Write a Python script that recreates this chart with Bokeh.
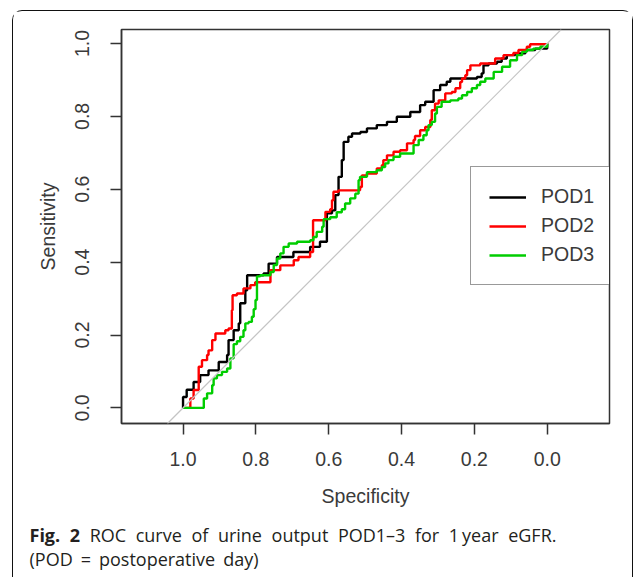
from bokeh.plotting import figure
from bokeh.models import (Range1d, FixedTicker, PrintfTickFormatter, Legend, LegendItem,
                          Slope, Div)
from bokeh.layouts import column
from bokeh.embed import file_html
from bokeh.resources import INLINE

# ---- data ----
pod1_spec = [1.000, 1.000, 0.990, 0.971, 0.953, 0.930, 0.902, 0.879, 0.875, 0.861, 0.847, 0.843,
             0.829, 0.824, 0.797, 0.779, 0.765, 0.742, 0.697, 0.651, 0.624, 0.609, 0.605, 0.591,
             0.582, 0.573, 0.564, 0.559, 0.546, 0.536, 0.513, 0.495, 0.468, 0.440, 0.413, 0.376,
             0.349, 0.335, 0.312, 0.312, 0.294, 0.276, 0.266, 0.193, 0.180, 0.175, 0.161, 0.138,
             0.125, 0.111, 0.088, 0.060, 0.033, 0.000, 0.000]
pod1_sens = [0.000, 0.030, 0.050, 0.071, 0.090, 0.103, 0.126, 0.145, 0.186, 0.213, 0.232, 0.287,
             0.323, 0.364, 0.364, 0.369, 0.396, 0.414, 0.428, 0.442, 0.456, 0.456, 0.534, 0.542,
             0.584, 0.634, 0.680, 0.730, 0.744, 0.753, 0.757, 0.767, 0.776, 0.785, 0.799, 0.812,
             0.831, 0.840, 0.853, 0.872, 0.886, 0.895, 0.904, 0.908, 0.918, 0.940, 0.945, 0.950,
             0.959, 0.968, 0.973, 0.982, 0.986, 0.986, 1.000]

pod2_spec = [1.000, 0.980, 0.980, 0.971, 0.957, 0.948, 0.934, 0.930, 0.920, 0.911, 0.884, 0.875,
             0.866, 0.864, 0.852, 0.834, 0.815, 0.802, 0.760, 0.760, 0.733, 0.696, 0.683, 0.651,
             0.643, 0.643, 0.623, 0.609, 0.596, 0.591, 0.587, 0.573, 0.518, 0.514, 0.509, 0.495,
             0.468, 0.454, 0.450, 0.440, 0.422, 0.404, 0.385, 0.367, 0.363, 0.349, 0.335, 0.321,
             0.317, 0.308, 0.298, 0.280, 0.262, 0.252, 0.239, 0.234, 0.225, 0.220, 0.211, 0.184,
             0.152, 0.143, 0.120, 0.093, 0.079, 0.056, 0.047, 0.000]
pod2_sens = [0.000, 0.003, 0.026, 0.049, 0.113, 0.131, 0.145, 0.158, 0.186, 0.204, 0.213, 0.218,
             0.268, 0.309, 0.314, 0.328, 0.337, 0.345, 0.345, 0.378, 0.391, 0.405, 0.414, 0.428,
             0.433, 0.515, 0.515, 0.538, 0.545, 0.570, 0.593, 0.597, 0.597, 0.606, 0.638, 0.643,
             0.657, 0.666, 0.680, 0.693, 0.703, 0.707, 0.726, 0.735, 0.746, 0.762, 0.771, 0.790,
             0.817, 0.835, 0.844, 0.863, 0.867, 0.877, 0.894, 0.904, 0.913, 0.927, 0.940, 0.945,
             0.945, 0.959, 0.968, 0.974, 0.982, 0.991, 0.998, 1.000]

pod3_spec = [1.000, 0.943, 0.943, 0.934, 0.920, 0.916, 0.907, 0.893, 0.879, 0.870, 0.861, 0.852,
             0.843, 0.834, 0.829, 0.820, 0.811, 0.806, 0.801, 0.797, 0.797, 0.788, 0.765, 0.760,
             0.751, 0.742, 0.733, 0.724, 0.710, 0.687, 0.651, 0.642, 0.633, 0.618, 0.614, 0.596,
             0.578, 0.564, 0.555, 0.541, 0.527, 0.518, 0.514, 0.495, 0.468, 0.454, 0.445, 0.436,
             0.422, 0.404, 0.372, 0.367, 0.353, 0.340, 0.331, 0.326, 0.317, 0.308, 0.303, 0.290,
             0.266, 0.244, 0.234, 0.220, 0.207, 0.193, 0.184, 0.170, 0.147, 0.124, 0.102, 0.083,
             0.069, 0.056, 0.038, 0.019, 0.000]
pod3_sens = [0.000, 0.000, 0.026, 0.040, 0.062, 0.081, 0.090, 0.099, 0.108, 0.136, 0.175, 0.183,
             0.195, 0.213, 0.232, 0.236, 0.250, 0.271, 0.296, 0.328, 0.361, 0.364, 0.364, 0.373,
             0.392, 0.410, 0.424, 0.442, 0.451, 0.456, 0.460, 0.469, 0.483, 0.497, 0.518, 0.523,
             0.537, 0.545, 0.561, 0.575, 0.588, 0.625, 0.634, 0.647, 0.652, 0.661, 0.671, 0.680,
             0.689, 0.698, 0.698, 0.721, 0.735, 0.748, 0.762, 0.776, 0.785, 0.808, 0.826, 0.840,
             0.844, 0.849, 0.858, 0.867, 0.877, 0.886, 0.895, 0.904, 0.922, 0.936, 0.954, 0.968,
             0.977, 0.982, 0.986, 0.991, 1.000]

series_names = ["POD1", "POD2", "POD3"]
series_colors = ["#000000", "#ff0000", "#00cd00"]
x_ticks = [1.0, 0.8, 0.6, 0.4, 0.2, 0.0]
y_ticks = [0.0, 0.2, 0.4, 0.6, 0.8, 1.0]

caption_bold = "Fig.&nbsp;2"
caption_line1 = "ROC curve of urine output POD1\u20133 for 1\u2009year eGFR."
caption_line2 = "(POD = postoperative day)"

# ---- figure ----
W, H = 619, 500
ML, MR, MT, MB = 108, 23, 18, 88
p = figure(width=W, height=H, output_backend="svg", toolbar_location=None,
           x_range=Range1d(1.169, -0.171), y_range=Range1d(-0.0428, 1.0384),
           min_border_left=ML, min_border_right=MR, min_border_top=MT, min_border_bottom=MB,
           background_fill_color="white", border_fill_color="white", margin=(0, 0, 0, 0))
p.grid.visible = False
p.outline_line_color = "#333333"
p.outline_line_width = 1.5

AX_FONT = "Liberation Sans"
for ax, ticks in ((p.xaxis[0], x_ticks), (p.yaxis[0], y_ticks)):
    ax.ticker = FixedTicker(ticks=ticks)
    ax.formatter = PrintfTickFormatter(format="%.1f")
    ax.minor_tick_line_color = None
    ax.major_tick_out = 11
    ax.major_tick_in = 0
    ax.major_tick_line_color = "#333333"
    ax.major_tick_line_width = 1.5
    ax.axis_line_color = "#333333"
    ax.axis_line_width = 1.5
    ax.major_label_text_font = AX_FONT
    ax.major_label_text_font_size = "19.5px"
    ax.major_label_text_color = "#3a3a3a"
    ax.axis_label_text_font = AX_FONT
    ax.axis_label_text_font_size = "19.5px"
    ax.axis_label_text_font_style = "normal"
    ax.axis_label_text_color = "#3a3a3a"

p.xaxis.axis_label = "Specificity"
p.yaxis.axis_label = "Sensitivity"
p.yaxis.major_label_orientation = "vertical"
p.yaxis.major_label_standoff = 21
p.yaxis.axis_label_standoff = 14
p.xaxis.major_label_standoff = 17
p.xaxis.axis_label_standoff = 16

# diagonal reference line
p.add_layout(Slope(gradient=-1, y_intercept=1, line_color="#c4c4c4", line_width=1.2))

renderers = []
for spec, sens, col in ((pod1_spec, pod1_sens, series_colors[0]),
                        (pod2_spec, pod2_sens, series_colors[1]),
                        (pod3_spec, pod3_sens, series_colors[2])):
    r = p.step(spec, sens, mode="after", line_color=col, line_width=2.4)
    renderers.append(r)

legend = Legend(items=[LegendItem(label=n, renderers=[r]) for n, r in zip(series_names, renderers)],
                location=(349, 138), orientation="vertical",
                border_line_color="#333333", border_line_width=1.5,
                background_fill_color="white", background_fill_alpha=1.0,
                label_text_font=AX_FONT, label_text_font_size="19.5px", label_text_color="#3a3a3a",
                glyph_width=37, glyph_height=20, label_standoff=15, spacing=6, padding=18, margin=0)
p.add_layout(legend, "center")

# ---- caption ----
cap_font = "font-family:'Open Sans',sans-serif;font-size:18px;color:#231f20;line-height:24px;"
cap_html = (
    f'<div style="{cap_font}padding:11.5px 0 0 16.5px;">'
    f'<div style="width:527px;text-align:justify;text-align-last:justify;">'
    f'<b>{caption_bold}</b> {caption_line1}</div>'
    f'<div style="width:229px;text-align:justify;text-align-last:justify;">{caption_line2}</div>'
    f'</div>'
)
cap = Div(text=cap_html, width=W, height=66, margin=(0, 0, 0, 0))

layout = column(p, cap, margin=(10, 0, 0, 12), spacing=0,
                styles={"border": "1.5px solid #111111", "border-bottom": "none",
                        "border-radius": "10px 10px 0 0", "box-sizing": "content-box"})

open("out.html", "w").write(file_html(layout, INLINE))
